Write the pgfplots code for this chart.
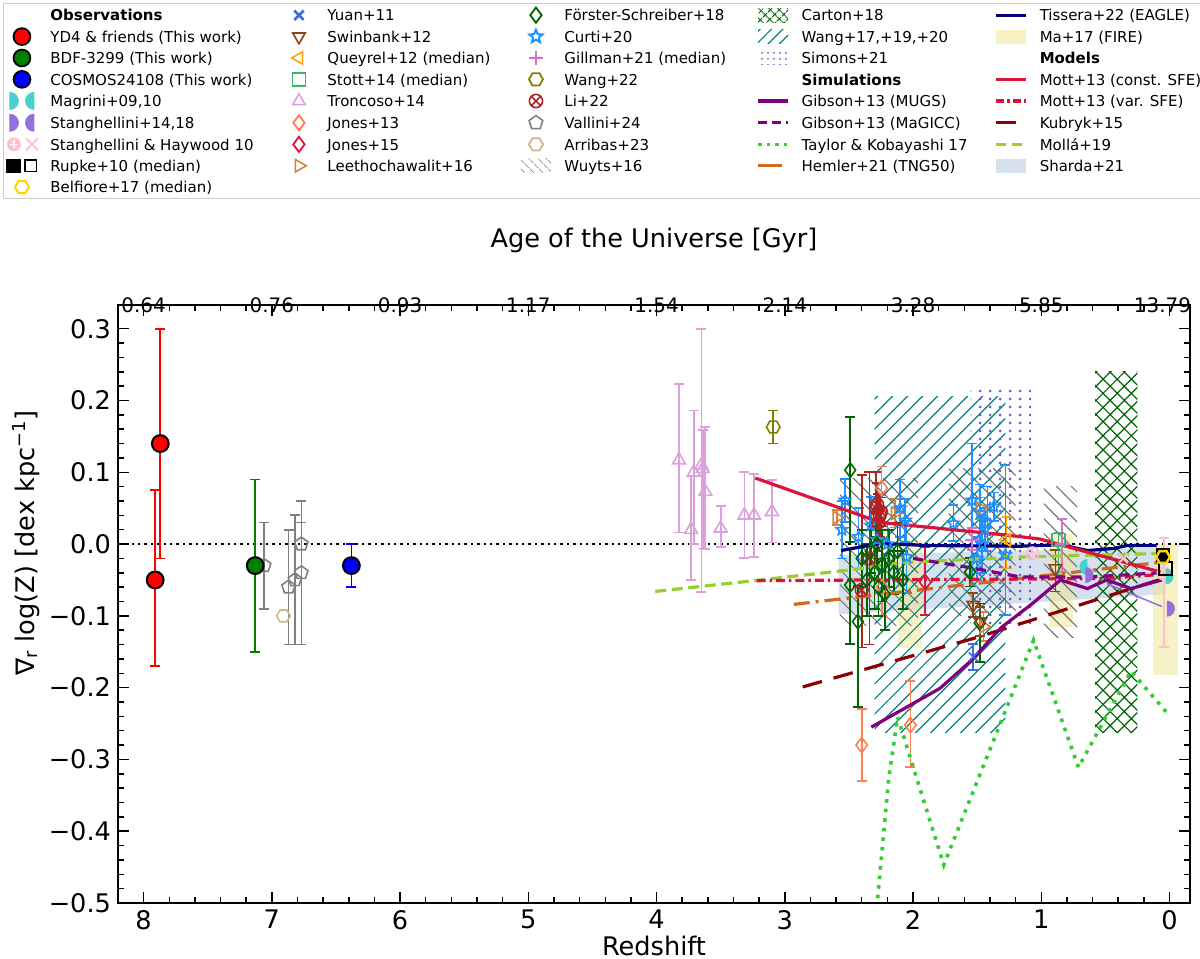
\documentclass[border=0pt]{standalone}
\usepackage{fontspec}
\setmainfont{DejaVu Sans}
\usepackage{pgfplots}
\pgfplotsset{compat=1.18}
\usetikzlibrary{patterns,patterns.meta,plotmarks}

% matplotlib named colours
\definecolor{cRoyal}{HTML}{4169E1}
\definecolor{cSaddle}{HTML}{8B4513}
\definecolor{cOrange}{HTML}{FFA500}
\definecolor{cSeaGreen}{HTML}{3CB371}
\definecolor{cPlum}{HTML}{DDA0DD}
\definecolor{cCoral}{HTML}{FF7F50}
\definecolor{cCrimson}{HTML}{DC143C}
\definecolor{cPeru}{HTML}{CD853F}
\definecolor{cDkGreen}{HTML}{006400}
\definecolor{cDodger}{HTML}{1E90FF}
\definecolor{cOrchid}{HTML}{DA70D6}
\definecolor{cOlive}{HTML}{808000}
\definecolor{cFire}{HTML}{B22222}
\definecolor{cGray}{HTML}{808080}
\definecolor{cTan}{HTML}{D2B48C}
\definecolor{cDimGray}{HTML}{696969}
\definecolor{cTeal}{HTML}{008080}
\definecolor{cSlate}{HTML}{6A5ACD}
\definecolor{cPurple}{HTML}{800080}
\definecolor{cLime}{HTML}{32CD32}
\definecolor{cChoc}{HTML}{D2691E}
\definecolor{cNavy}{HTML}{000080}
\definecolor{cKhaki}{HTML}{F0E68C}
\definecolor{cDkRed}{HTML}{8B0000}
\definecolor{cYGreen}{HTML}{9ACD32}
\definecolor{cSteel}{HTML}{B0C4DE}
\definecolor{cTurq}{HTML}{48D1CC}
\definecolor{cMPurple}{HTML}{9370DB}
\definecolor{cPink}{HTML}{FFC0CB}
\definecolor{cGold}{HTML}{FFD700}
\definecolor{cGreen}{HTML}{008000}

% dot grid for the Simons+21 range
\pgfdeclarepatternformonly{simdots}{\pgfqpoint{-1bp}{-1bp}}{\pgfqpoint{1bp}{1bp}}{\pgfqpoint{5bp}{4bp}}{%
  \pgfpathcircle{\pgfqpoint{0bp}{0bp}}{0.75bp}\pgfusepath{fill}}
\pgfdeclarepatternformonly{simdotsL}{\pgfqpoint{-1bp}{-1bp}}{\pgfqpoint{1bp}{1bp}}{\pgfqpoint{3bp}{3bp}}{%
  \pgfpathcircle{\pgfqpoint{0bp}{0bp}}{0.5bp}\pgfusepath{fill}}

% extra markers
\pgfdeclareplotmark{hexa}{%
  \pgfpathmoveto{\pgfpointpolar{0}{\pgfplotmarksize}}%
  \pgfpathlineto{\pgfpointpolar{60}{\pgfplotmarksize}}%
  \pgfpathlineto{\pgfpointpolar{120}{\pgfplotmarksize}}%
  \pgfpathlineto{\pgfpointpolar{180}{\pgfplotmarksize}}%
  \pgfpathlineto{\pgfpointpolar{240}{\pgfplotmarksize}}%
  \pgfpathlineto{\pgfpointpolar{300}{\pgfplotmarksize}}%
  \pgfpathclose\pgfusepathqstroke}
\pgfdeclareplotmark{star5}{%
  \pgfpathmoveto{\pgfpointpolar{90}{\pgfplotmarksize}}%
  \pgfpathlineto{\pgfpointpolar{126}{0.45\pgfplotmarksize}}%
  \pgfpathlineto{\pgfpointpolar{162}{\pgfplotmarksize}}%
  \pgfpathlineto{\pgfpointpolar{198}{0.45\pgfplotmarksize}}%
  \pgfpathlineto{\pgfpointpolar{234}{\pgfplotmarksize}}%
  \pgfpathlineto{\pgfpointpolar{270}{0.45\pgfplotmarksize}}%
  \pgfpathlineto{\pgfpointpolar{306}{\pgfplotmarksize}}%
  \pgfpathlineto{\pgfpointpolar{342}{0.45\pgfplotmarksize}}%
  \pgfpathlineto{\pgfpointpolar{18}{\pgfplotmarksize}}%
  \pgfpathlineto{\pgfpointpolar{54}{0.45\pgfplotmarksize}}%
  \pgfpathclose\pgfusepathqstroke}
\pgfdeclareplotmark{halfR}{%
  \pgfpathmoveto{\pgfqpoint{0pt}{-\pgfplotmarksize}}%
  \pgfpatharc{-90}{90}{\pgfplotmarksize}%
  \pgfpathclose\pgfusepathqfill}
\pgfdeclareplotmark{halfL}{%
  \pgfpathmoveto{\pgfqpoint{0pt}{\pgfplotmarksize}}%
  \pgfpatharc{90}{270}{\pgfplotmarksize}%
  \pgfpathclose\pgfusepathqfill}

\pgfplotsset{
  eb/.style={error bars/y dir=both, error bars/y explicit,
    error bars/error bar style={line width=0.85bp},
    error bars/error mark options={rotate=90, line width=0.85bp, mark size=2.5bp}},
  pts/.style={forget plot, only marks, line width=0.8bp, mark options={solid}},
}

% legend helpers
\newcommand{\st}{\rule[-1.8bp]{0pt}{9bp}}
\newcommand{\LM}[1]{\addlegendimage{legend image code/.code={\draw[sharp corners, #1] plot[only marks] coordinates {(7.5bp,0bp)}; \path (0bp,-4bp) (21.5bp,4bp);}}}
\newcommand{\LL}[1]{\addlegendimage{legend image code/.code={\draw[sharp corners, #1] (0bp,0bp) -- (15bp,0bp); \path (0bp,-4bp) (21.5bp,4bp);}}}
\newcommand{\LA}[1]{\addlegendimage{legend image code/.code={\path[draw=none, #1] (0bp,-3.5bp) rectangle (15bp,3.5bp); \path (0bp,-4bp) (21.5bp,4bp);}}}
\newcommand{\LC}[1]{\addlegendimage{legend image code/.code={#1 \path (0bp,-4bp) (21.5bp,4bp);}}}
\newcommand{\LE}{\addlegendimage{legend image code/.code={\path (0bp,-4bp) (21.5bp,4bp);}}}
\newcommand{\TA}[1]{\addlegendentry{\makebox[116.5bp][l]{\st#1}}}
\newcommand{\TB}[1]{\addlegendentry{\makebox[96.5bp][l]{\st#1}}}
\newcommand{\TC}[1]{\addlegendentry{\makebox[96bp][l]{\st#1}}}
\newcommand{\TD}[1]{\addlegendentry{\makebox[96.5bp][l]{\st#1}}}
\newcommand{\TE}[1]{\addlegendentry{\makebox[79bp][l]{\st#1}}}
\newcommand{\tlfont}{\fontsize{12.8bp}{15bp}\selectfont}

\begin{document}
\begin{tikzpicture}
\useasboundingbox (0bp,0bp) rectangle (600bp,-479.5bp);

\begin{axis}[
    at={(59bp,-451.5bp)}, anchor=south west,
    scale only axis, width=536bp, height=299bp,
    x dir=reverse,
    xmin=-0.16, xmax=8.2,
    ymin=-0.5, ymax=0.333,
    xtick={0,1,2,3,4,5,6,7,8},
    xticklabels={0,1,2,3,4,5,6,7,8},
    ytick={-0.5,-0.4,-0.3,-0.2,-0.1,0,0.1,0.2,0.3},
    yticklabels={−0.5,−0.4,−0.3,−0.2,−0.1,0.0,0.1,0.2,0.3},
    minor x tick num=4, minor y tick num=4,
    xtick pos=both, ytick pos=both, tick align=inside,
    major tick length=5.5bp, minor tick length=3bp,
    every tick/.style={black, line width=0.75bp},
    axis line style={line width=1bp},
    tick label style={font=\tlfont},
    label style={font=\tlfont},
    xlabel={Redshift},
    xlabel style={at={(axis description cs:0.5,0)}, anchor=center, yshift=-21.5bp},
    ylabel={∇\textsubscript{r} log(Z) [dex kpc\textsuperscript{−1}]},
    ylabel style={at={(axis description cs:-0.0858,0.602)}, anchor=center},
    legend columns=5,
    legend cell align=left,
    legend style={at={(-0.1073,1.505)}, anchor=north west,
      draw=black!20, line width=0.5bp,
      inner sep=1.5bp, row sep=2bp, column sep=0pt,
      /tikz/every even column/.style={column sep=0pt},
      font=\fontsize{7.5bp}{9bp}\selectfont,
      nodes={inner sep=0pt}},
]

% ---------------- legend (column-wise as in the figure, written row by row)
\LE \TA{\textbf{Observations}}
\LM{mark=x, mark size=3.3bp, draw=cRoyal, line width=1.3bp} \TB{Yuan+11}
\LM{mark=diamond, mark size=3.8bp, draw=cDkGreen, line width=0.9bp} \TC{Förster-Schreiber+18}
\LA{pattern={Hatch[angle=45,distance=3.6bp,line width=0.6bp]}, pattern color=cDkGreen} \TD{Carton+18}
\LL{cNavy, line width=1.6bp} \TE{Tissera+22 (EAGLE)}
%
\LM{mark=*, mark size=4.2bp, fill=red, draw=black, line width=0.9bp} \TA{YD4 \& friends (This work)}
\LM{mark=triangle, mark size=3.6bp, draw=cSaddle, line width=0.8bp, mark options={rotate=180}} \TB{Swinbank+12}
\LM{mark=star5, mark size=3.4bp, draw=cDodger, line width=1bp} \TC{Curti+20}
\LA{pattern={Lines[angle=45,distance=4bp,line width=0.6bp]}, pattern color=cTeal} \TD{Wang+17,+19,+20}
\LA{fill=cKhaki, fill opacity=0.5} \TE{Ma+17 (FIRE)}
%
\LM{mark=*, mark size=4.2bp, fill=cGreen, draw=black, line width=0.9bp} \TA{BDF-3299 (This work)}
\LM{mark=triangle, mark size=3.6bp, draw=cOrange, line width=0.8bp, mark options={rotate=90}} \TB{Queyrel+12 (median)}
\LM{mark=+, mark size=3.5bp, draw=cOrchid, line width=1.4bp} \TC{Gillman+21 (median)}
\LA{pattern=simdotsL, pattern color=cSlate} \TD{Simons+21}
\LE \TE{\textbf{Models}}
%
\LM{mark=*, mark size=4.2bp, fill=blue, draw=black, line width=0.9bp} \TA{COSMOS24108 (This work)}
\LM{mark=square, mark size=3.3bp, draw=cSeaGreen, line width=0.8bp} \TB{Stott+14 (median)}
\LM{mark=hexa, mark size=3.5bp, draw=cOlive, line width=0.9bp} \TC{Wang+22}
\LE \TD{\textbf{Simulations}}
\LL{cCrimson, line width=1.6bp} \TE{Mott+13 (const. SFE)}
%
\LC{\fill[cTurq, sharp corners] (1.5bp,-4.2bp) arc[start angle=-90,end angle=90,radius=4.2bp] -- cycle; \fill[cTurq, sharp corners] (13.5bp,4.2bp) arc[start angle=90,end angle=270,radius=4.2bp] -- cycle;} \TA{Magrini+09,10}
\LM{mark=triangle, mark size=3.6bp, draw=cPlum, line width=0.8bp} \TB{Troncoso+14}
\LM{mark=otimes, mark size=3.3bp, draw=cFire, line width=0.8bp} \TC{Li+22}
\LL{cPurple, line width=1.6bp} \TD{Gibson+13 (MUGS)}
\LL{cCrimson, line width=1.6bp, dash pattern=on 4bp off 1.6bp on 1.2bp off 1.6bp} \TE{Mott+13 (var. SFE)}
%
\LC{\fill[cMPurple, sharp corners] (1.5bp,-4.2bp) arc[start angle=-90,end angle=90,radius=4.2bp] -- cycle; \fill[cMPurple, sharp corners] (13.5bp,4.2bp) arc[start angle=90,end angle=270,radius=4.2bp] -- cycle;} \TA{Stanghellini+14,18}
\LM{mark=diamond, mark size=3.8bp, draw=cCoral, line width=0.9bp} \TB{Jones+13}
\LM{mark=pentagon, mark size=3.6bp, draw=cGray, line width=0.8bp} \TC{Vallini+24}
\LL{cPurple, line width=1.6bp, dash pattern=on 4.5bp off 2.5bp} \TD{Gibson+13 (MaGICC)}
\LL{cDkRed, line width=1.6bp, dash pattern=on 10bp off 6bp} \TE{Kubryk+15}
%
\LC{\fill[cPink] (3.5bp,0bp) circle (3.2bp); \draw[white, line width=0.6bp] (1.5bp,0bp) -- (5.5bp,0bp) (3.5bp,-2bp) -- (3.5bp,2bp); \draw[cPink, line width=0.9bp] (9.5bp,-3bp) -- (15.5bp,3bp) (9.5bp,3bp) -- (15.5bp,-3bp);} \TA{Stanghellini \& Haywood 10}
\LM{mark=diamond, mark size=3.8bp, draw=cCrimson, line width=0.9bp} \TB{Jones+15}
\LM{mark=hexa, mark size=3.5bp, draw=cTan, line width=0.9bp} \TC{Arribas+23}
\LL{cLime, line width=1.7bp, dash pattern=on 1.7bp off 2.6bp} \TD{Taylor \& Kobayashi 17}
\LL{cYGreen, line width=1.6bp, dash pattern=on 5bp off 3bp} \TE{Mollá+19}
%
\LC{\fill[black, sharp corners] (0bp,-3.3bp) rectangle (6.6bp,3.3bp); \draw[black, line width=0.8bp, sharp corners] (9bp,-2.9bp) rectangle (14.8bp,2.9bp);} \TA{Rupke+10 (median)}
\LM{mark=triangle, mark size=3.6bp, draw=cPeru, line width=0.8bp, mark options={rotate=-90}} \TB{Leethochawalit+16}
\LA{pattern={Lines[angle=-45,distance=3.6bp,line width=0.5bp]}, pattern color=cDimGray} \TC{Wuyts+16}
\LL{cChoc, line width=1.6bp, dash pattern=on 12bp off 3bp} \TD{Hemler+21 (TNG50)}
\LA{fill=cSteel, fill opacity=0.5} \TE{Sharda+21}
%
\LM{mark=hexa, mark size=3.5bp, draw=cGold, line width=1bp} \TA{Belfiore+17 (median)}
\LE \addlegendentry{}
\LE \addlegendentry{}
\LE \addlegendentry{}
\LE \addlegendentry{}

% ---------------- shaded ranges
% Sharda+21
\addplot[forget plot, draw=none, fill=cSteel, fill opacity=0.5]
  coordinates {(2.58,-0.015) (0.03,-0.005) (0.03,-0.07) (2.58,-0.098)} -- cycle;
% Ma+17 (FIRE)
\addplot[forget plot, draw=none, fill=cKhaki, fill opacity=0.5]
  coordinates {(2.12,0.005) (1.93,0.005) (1.93,-0.145) (2.12,-0.145)} -- cycle;
\addplot[forget plot, draw=none, fill=cKhaki, fill opacity=0.5]
  coordinates {(0.94,0.014) (0.75,0.014) (0.75,-0.116) (0.94,-0.116)} -- cycle;
\addplot[forget plot, draw=none, fill=cKhaki, fill opacity=0.5]
  coordinates {(0.13,0.0) (-0.07,0.0) (-0.07,-0.182) (0.13,-0.182)} -- cycle;
% Wuyts+16
\addplot[forget plot, draw=none, pattern={Lines[angle=-45,distance=5.3bp,line width=0.5bp]}, pattern color=cDimGray]
  coordinates {(2.57,0.092) (1.96,0.092) (1.96,-0.113) (2.57,-0.113)} -- cycle;
\addplot[forget plot, draw=none, pattern={Lines[angle=-45,distance=5.3bp,line width=0.5bp]}, pattern color=cDimGray]
  coordinates {(1.72,0.105) (1.20,0.105) (1.20,-0.10) (1.72,-0.10)} -- cycle;
\addplot[forget plot, draw=none, pattern={Lines[angle=-45,distance=5.3bp,line width=0.5bp]}, pattern color=cDimGray]
  coordinates {(0.98,0.08) (0.72,0.08) (0.72,-0.13) (0.98,-0.13)} -- cycle;
% Wang+17,+19,+20
\addplot[forget plot, draw=none, pattern={Lines[angle=45,distance=5.3bp,line width=0.6bp]}, pattern color=cTeal]
  coordinates {(2.30,0.205) (1.28,0.205) (1.28,-0.262) (2.30,-0.262)} -- cycle;
% Simons+21
\addplot[forget plot, draw=none, pattern=simdots, pattern color=cSlate]
  coordinates {(1.55,0.215) (1.08,0.215) (1.08,-0.11) (1.55,-0.11)} -- cycle;
% Carton+18
\addplot[forget plot, draw=none, pattern={Hatch[angle=45,distance=5bp,line width=0.6bp]}, pattern color=cDkGreen]
  coordinates {(0.58,0.24) (0.25,0.24) (0.25,-0.262) (0.58,-0.262)} -- cycle;

% zero line
\addplot[forget plot, black, line width=1.2bp, dash pattern=on 1.2bp off 2bp]
  coordinates {(-0.16,0) (8.2,0)};

% ---------------- observations
% Vallini+24
\addplot[pts, cGray, mark=pentagon, mark size=3.5bp, eb] coordinates {
  (7.06,-0.03) += (0,0.06) -= (0,0.06)
  (6.87,-0.06) += (0,0.08) -= (0,0.08)
  (6.82,-0.05) += (0,0.09) -= (0,0.09)
  (6.77,-0.04) += (0,0.07) -= (0,0.10)
  (6.77,0.0) += (0,0.06) -= (0,0.14)
};
% Arribas+23
\addplot[pts, cTan, mark=hexa, mark size=3.4bp] coordinates {(6.91,-0.10)};
% YD4 & friends
\addplot[pts, red, mark=*, mark size=4.2bp, mark options={draw=black, fill=red, line width=1bp}, eb] coordinates {
  (7.87,0.14) += (0,0.16) -= (0,0.16)
  (7.91,-0.05) += (0,0.125) -= (0,0.12)
};
% BDF-3299
\addplot[pts, cGreen, mark=*, mark size=4.2bp, mark options={draw=black, fill=cGreen, line width=1bp}, eb] coordinates {
  (7.13,-0.03) += (0,0.12) -= (0,0.12)
};
% COSMOS24108
\addplot[pts, blue, mark=*, mark size=4.2bp, mark options={draw=black, fill=blue, line width=1bp}, eb] coordinates {
  (6.38,-0.03) += (0,0.03) -= (0,0.03)
};
% Troncoso+14
\addplot[pts, cPlum, mark=triangle, mark size=3.7bp, eb] coordinates {
  (3.825,0.117) += (0,0.106) -= (0,0.101)
  (3.73,0.020) += (0,0.074) -= (0,0.070)
  (3.71,0.100) += (0,0.086) -= (0,0.100)
  (3.65,0.110) += (0,0.190) -= (0,0.177)
  (3.64,0.105) += (0,0.054) -= (0,0.111)
  (3.62,0.073) += (0,0.090) -= (0,0.080)
  (3.50,0.022) += (0,0.031) -= (0,0.026)
  (3.315,0.040) += (0,0.060) -= (0,0.059)
  (3.24,0.040) += (0,0.058) -= (0,0.058)
  (3.10,0.045) += (0,0.044) -= (0,0.043)
};
% Wang+22
\addplot[pts, cOlive, mark=hexa, mark size=3.4bp, eb] coordinates {
  (3.09,0.163) += (0,0.023) -= (0,0.023)
};
% Leethochawalit+16
\addplot[pts, cPeru, mark=triangle, mark size=3.6bp, mark options={rotate=-90}, eb] coordinates {
  (2.595,0.037) += (0,0.010) -= (0,0.010)
  (2.14,0.043) += (0,0.020) -= (0,0.020)
  (1.475,0.050) += (0,0.015) -= (0,0.015)
  (1.45,-0.115) += (0,0.020) -= (0,0.020)
};
% Curti+20
\addplot[pts, cDodger, mark=star5, mark size=3bp, eb] coordinates {
  (2.53,0.061) += (0,0.030) -= (0,0.030)
  (2.555,0.020) += (0,0.040) -= (0,0.040)
  (2.425,0.010) += (0,0.040) -= (0,0.045)
  (2.33,0.026) += (0,0.040) -= (0,0.040)
  (2.28,0.006) += (0,0.040) -= (0,0.040)
  (2.20,0.000) += (0,0.030) -= (0,0.030)
  (2.10,0.050) += (0,0.040) -= (0,0.040)
  (2.06,0.033) += (0,0.030) -= (0,0.030)
  (2.05,-0.018) += (0,0.050) -= (0,0.050)
  (1.685,0.029) += (0,0.025) -= (0,0.025)
  (1.54,0.061) += (0,0.079) -= (0,0.120)
  (1.475,0.043) += (0,0.040) -= (0,0.040)
  (1.46,0.000) += (0,0.040) -= (0,0.040)
  (1.50,-0.020) += (0,0.030) -= (0,0.030)
  (1.44,0.020) += (0,0.030) -= (0,0.030)
  (1.42,0.030) += (0,0.050) -= (0,0.050)
  (1.37,0.052) += (0,0.020) -= (0,0.020)
  (1.28,-0.015) += (0,0.125) -= (0,0.084)
};
% Li+22
\addplot[pts, cFire, mark=otimes, mark size=3.2bp, eb] coordinates {
  (2.40,-0.064) += (0,0.160) -= (0,0.080)
  (2.34,-0.020) += (0,0.120) -= (0,0.120)
  (2.29,0.050) += (0,0.050) -= (0,0.050)
  (2.28,0.055) += (0,0.030) -= (0,0.030)
  (2.27,0.030) += (0,0.040) -= (0,0.040)
  (2.26,0.040) += (0,0.030) -= (0,0.030)
  (2.25,0.045) += (0,0.020) -= (0,0.020)
};
% Jones+13
\addplot[pts, cCoral, mark=diamond, mark size=3.8bp, eb] coordinates {
  (2.245,0.078) += (0,0.030) -= (0,0.030)
  (2.24,-0.060) += (0,0.030) -= (0,0.040)
  (2.40,-0.280) += (0,0.050) -= (0,0.050)
  (2.02,-0.252) += (0,0.061) -= (0,0.059)
};
% Förster-Schreiber+18
\addplot[pts, cDkGreen, mark=diamond, mark size=3.6bp, eb] coordinates {
  (2.49,0.103) += (0,0.074) -= (0,0.100)
  (2.49,-0.057) += (0,0.050) -= (0,0.082)
  (2.43,-0.108) += (0,0.050) -= (0,0.119)
  (2.40,-0.020) += (0,0.040) -= (0,0.040)
  (2.36,-0.050) += (0,0.050) -= (0,0.050)
  (2.33,-0.010) += (0,0.030) -= (0,0.030)
  (2.30,-0.040) += (0,0.050) -= (0,0.050)
  (2.28,0.000) += (0,0.030) -= (0,0.030)
  (2.27,-0.060) += (0,0.040) -= (0,0.040)
  (2.24,-0.030) += (0,0.050) -= (0,0.050)
  (2.22,-0.070) += (0,0.050) -= (0,0.050)
  (2.19,-0.020) += (0,0.040) -= (0,0.040)
  (2.15,-0.040) += (0,0.030) -= (0,0.030)
  (2.12,-0.010) += (0,0.040) -= (0,0.040)
  (2.08,-0.050) += (0,0.040) -= (0,0.040)
  (1.555,-0.039) += (0,0.020) -= (0,0.020)
  (1.48,-0.110) += (0,0.027) -= (0,0.054)
};
% Jones+15
\addplot[pts, cCrimson, mark=diamond, mark size=3.8bp, eb] coordinates {
  (1.905,-0.053) += (0,0.049) -= (0,0.046)
};
% Swinbank+12
\addplot[pts, cSaddle, mark=triangle, mark size=3.6bp, mark options={rotate=180}, eb] coordinates {
  (1.53,-0.085) += (0,0.017) -= (0,0.017)
  (1.475,-0.108) += (0,0.020) -= (0,0.020)
  (0.89,-0.034) += (0,0.026) -= (0,0.032)
};
% Yuan+11
\addplot[pts, cRoyal, mark=x, mark size=3.2bp, eb] coordinates {
  (1.53,-0.157) += (0,0.018) -= (0,0.018)
};
% Gillman+21
\addplot[pts, cOrchid, mark=+, mark size=3.4bp, eb] coordinates {
  (1.54,0.006) += (0,0.016) -= (0,0.014)
  (0.84,0.000) += (0,0.035) -= (0,0.039)
};
% Queyrel+12
\addplot[pts, cOrange, mark=triangle, mark size=3.6bp, mark options={rotate=90}, eb] coordinates {
  (1.27,0.006) += (0,0.032) -= (0,0.040)
};
% Stott+14
\addplot[pts, cSeaGreen, mark=square, mark size=3.2bp, eb] coordinates {
  (0.865,0.006) += (0,0.010) -= (0,0.049)
};
% Stanghellini & Haywood 10
\addplot[pts, cPink, mark=oplus, mark size=3.2bp, eb] coordinates {
  (1.07,-0.013) += (0,0.0) -= (0,0.0)
  (0.045,-0.041) += (0,0.049) -= (0,0.102)
};
\addplot[pts, cPink, mark=x, mark size=3.2bp, line width=1bp] coordinates {(0.36,-0.020)};
% Magrini+09,10
\addplot[pts, cTurq, mark=halfL, mark size=4bp] coordinates {(0.64,-0.032)};
\addplot[pts, cTurq, mark=halfR, mark size=4bp] coordinates {(0.03,-0.045)};
% Stanghellini+14,18
\addplot[forget plot, cMPurple, line width=0.75bp] coordinates {(0.49,-0.055) (0.06,-0.087)};
\addplot[pts, cMPurple, mark=halfR, mark size=4bp] coordinates {(0.655,-0.043) (0.02,-0.090)};
% Rupke+10
\addplot[pts, black, mark=square*, mark size=3.2bp] coordinates {(0.05,-0.015)};
\addplot[pts, black, mark=square, mark size=3.2bp] coordinates {(0.03,-0.034)};
% Belfiore+17
\addplot[pts, cGold, mark=hexa, mark size=3.4bp, line width=1.2bp] coordinates {(0.05,-0.018)};

% ---------------- models and simulations
\addplot[forget plot, cChoc, line width=1.6bp, dash pattern=on 8bp off 3bp on 1.5bp off 3bp]
  coordinates {(2.93,-0.084) (0.05,-0.025)};
\addplot[forget plot, cYGreen, line width=1.6bp, dash pattern=on 5.5bp off 2.8bp]
  coordinates {(4.01,-0.066) (3.14,-0.049) (2.49,-0.036) (2.10,-0.026) (1.16,-0.018) (0.05,-0.013)};
\addplot[forget plot, cCrimson, line width=1.6bp, dash pattern=on 4.5bp off 2bp on 1.2bp off 2bp]
  coordinates {(3.22,-0.051) (0.5,-0.048) (0.05,-0.042)};
\addplot[forget plot, cDkRed, line width=1.6bp, dash pattern=on 10bp off 6bp]
  coordinates {(2.86,-0.199) (1.50,-0.130) (0.03,-0.047)};
\addplot[forget plot, cPurple, line width=1.6bp, dash pattern=on 5bp off 3bp]
  coordinates {(2.0,-0.020) (1.55,-0.033) (1.16,-0.046) (0.64,-0.046) (0.07,-0.040)};
\addplot[forget plot, cPurple, line width=1.6bp]
  coordinates {(2.325,-0.255) (1.79,-0.201) (1.55,-0.163) (1.31,-0.116) (1.07,-0.083) (0.85,-0.050) (0.64,-0.062) (0.49,-0.050) (0.30,-0.062) (0.06,-0.050)};
\addplot[forget plot, cLime, line width=1.8bp, dash pattern=on 1.8bp off 3bp]
  coordinates {(2.31,-0.56) (2.19,-0.327) (2.12,-0.241) (1.76,-0.447) (1.06,-0.134) (0.71,-0.311) (0.30,-0.177) (0.01,-0.237)};
\addplot[forget plot, cNavy, line width=1.6bp]
  coordinates {(2.56,-0.009) (2.26,0.001) (1.9,-0.002) (1.16,-0.003) (0.85,-0.001) (0.64,-0.009) (0.43,-0.006) (0.33,-0.002) (0.10,-0.002)};
\addplot[forget plot, cCrimson, line width=1.6bp]
  coordinates {(3.23,0.092) (2.25,0.030) (1.27,0.0125) (1.01,0.007) (0.85,-0.001) (0.07,-0.039)};
\end{axis}

% top axis: age of the Universe at the same redshifts (labels set on the baseline)
\begin{axis}[
    at={(59bp,-451.5bp)}, anchor=south west,
    scale only axis, width=536bp, height=299bp,
    x dir=reverse,
    xmin=-0.16, xmax=8.2,
    ymin=-0.5, ymax=0.333,
    hide y axis, clip=false,
    axis line style={draw=none},
    xtick=\empty,
    label style={font=\tlfont},
    xlabel={Age of the Universe [Gyr]},
    xlabel style={at={(axis description cs:0.5,1)}, anchor=center, yshift=32.5bp},
    every node/.append style={font=\tlfont, anchor=base, yshift=6.5bp},
]
\node[xshift=-3.5bp] at (axis cs:0,0.333) {13.79};
\node at (axis cs:1,0.333) {5.85};
\node at (axis cs:2,0.333) {3.28};
\node at (axis cs:3,0.333) {2.14};
\node at (axis cs:4,0.333) {1.54};
\node at (axis cs:5,0.333) {1.17};
\node at (axis cs:6,0.333) {0.93};
\node at (axis cs:7,0.333) {0.76};
\node at (axis cs:8,0.333) {0.64};
\end{axis}
\end{tikzpicture}
\end{document}
